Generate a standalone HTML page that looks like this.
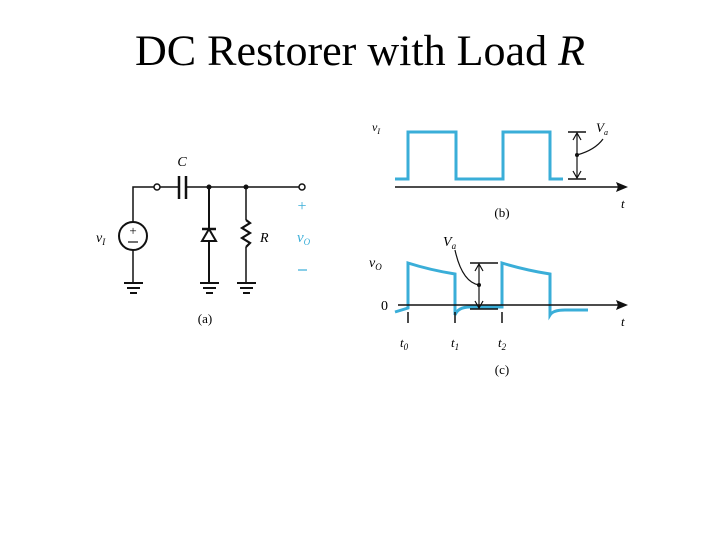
<!DOCTYPE html>
<html><head><meta charset="utf-8"><style>html,body{margin:0;padding:0;background:#fff;width:720px;height:540px;overflow:hidden}</style></head>
<body>
<svg width="720" height="540" viewBox="0 0 720 540" xmlns="http://www.w3.org/2000/svg" font-family="Liberation Serif, serif">
<text x="360" y="65" font-size="43" text-anchor="middle" textLength="450" lengthAdjust="spacingAndGlyphs">DC Restorer with Load <tspan font-style="italic">R</tspan></text>

<g stroke="#111" stroke-width="1.5" fill="none">
<!-- circuit -->
<polyline points="133,222 133,187 154,187"/>
<line x1="160" y1="187" x2="179" y2="187"/>
<line x1="179" y1="176" x2="179" y2="199" stroke-width="2.5"/>
<line x1="186" y1="176" x2="186" y2="199" stroke-width="2.5"/>
<line x1="186" y1="187" x2="299" y2="187"/>
<circle cx="157" cy="187" r="3" fill="#fff"/>
<circle cx="302" cy="187" r="3" fill="#fff"/>
<circle cx="133" cy="236" r="14" stroke-width="2"/>
<line x1="133" y1="250" x2="133" y2="283"/>
<line x1="209" y1="187" x2="209" y2="283" stroke-width="2"/>
<line x1="246" y1="187" x2="246" y2="220"/>
<polyline points="246,220 250,223 242,228 250,233 242,238 250,243 246,247" stroke-width="2.2"/>
<line x1="246" y1="247" x2="246" y2="283"/>
</g>
<circle cx="209" cy="187" r="2.5" fill="#111"/>
<circle cx="246" cy="187" r="2.5" fill="#111"/>
<polygon points="202,241 216,241 209,229" fill="#fff" stroke="#111" stroke-width="2"/>
<line x1="202" y1="229" x2="216" y2="229" stroke="#111" stroke-width="2.5"/>
<g stroke="#111" stroke-width="2">
<line x1="124" y1="283" x2="143" y2="283"/><line x1="127" y1="288" x2="140" y2="288"/><line x1="130" y1="293" x2="137" y2="293"/>
<line x1="200" y1="283" x2="219" y2="283"/><line x1="203" y1="288" x2="216" y2="288"/><line x1="206" y1="293" x2="213" y2="293"/>
<line x1="237" y1="283" x2="256" y2="283"/><line x1="240" y1="288" x2="253" y2="288"/><line x1="243" y1="293" x2="250" y2="293"/>
</g>
<text x="133" y="235" font-size="13" text-anchor="middle">+</text>
<line x1="128" y1="242" x2="138" y2="242" stroke="#111" stroke-width="1.2"/>
<text x="182" y="166" font-size="14" font-style="italic" text-anchor="middle">C</text>
<text x="260" y="242" font-size="14" font-style="italic">R</text>
<text x="96" y="242" font-size="14" font-style="italic">v<tspan font-size="9" dy="3">I</tspan></text>
<text x="302" y="211" font-size="16" fill="#3aaed8" text-anchor="middle">+</text>
<text x="297" y="242" font-size="15" font-style="italic" fill="#3aaed8">v<tspan font-size="9" dy="3">O</tspan></text>
<line x1="298" y1="270" x2="307" y2="270" stroke="#3aaed8" stroke-width="1.2"/>
<text x="205" y="323" font-size="13" text-anchor="middle">(a)</text>

<!-- (b) -->
<g fill="none">
<polyline points="395,179 408,179 408,132 456,132 456,179 503,179 503,132 550,132 550,179 563,179" stroke="#3aaed8" stroke-width="3"/>
<line x1="395" y1="187" x2="618" y2="187" stroke="#111" stroke-width="1.5"/>
<line x1="568" y1="132" x2="586" y2="132" stroke="#111" stroke-width="1.5"/>
<line x1="568" y1="179" x2="586" y2="179" stroke="#111" stroke-width="1.5"/>
<line x1="577" y1="133" x2="577" y2="178" stroke="#111" stroke-width="1.2"/>
<polyline points="573,140 577,133 581,140" stroke="#111" stroke-width="1.2"/>
<polyline points="573,171 577,178 581,171" stroke="#111" stroke-width="1.2"/>
<path d="M577,155 Q595,150 603,139" stroke="#111" stroke-width="1.2"/>
</g>
<polygon points="628,187 616,182 618,187 616,192" fill="#111"/>
<circle cx="577" cy="155" r="2" fill="#111"/>
<text x="372" y="131" font-size="12" font-style="italic">v<tspan font-size="8" dy="3">I</tspan></text>
<text x="596" y="132" font-size="13" font-style="italic">V<tspan font-size="8" dy="3">a</tspan></text>
<text x="621" y="208" font-size="13" font-style="italic">t</text>
<text x="502" y="217" font-size="13" text-anchor="middle">(b)</text>

<!-- (c) -->
<g fill="none">
<path d="M395,312 L408,308 L408,263 Q430,270 455,274 L455,315 Q458,307 470,307 L502,307 L502,263 Q525,270 550,274 L550,315 Q553,310 565,310 L588,310" stroke="#3aaed8" stroke-width="3"/>
<line x1="398" y1="305" x2="618" y2="305" stroke="#111" stroke-width="1.5"/>
<line x1="408" y1="312" x2="408" y2="323" stroke="#111" stroke-width="1.5"/>
<line x1="455" y1="312" x2="455" y2="323" stroke="#111" stroke-width="1.5"/>
<line x1="502" y1="312" x2="502" y2="323" stroke="#111" stroke-width="1.5"/>
<line x1="470" y1="263" x2="498" y2="263" stroke="#111" stroke-width="1.5"/>
<line x1="470" y1="309" x2="498" y2="309" stroke="#111" stroke-width="1.5"/>
<line x1="479" y1="264" x2="479" y2="308" stroke="#111" stroke-width="1.2"/>
<polyline points="475,271 479,264 483,271" stroke="#111" stroke-width="1.2"/>
<polyline points="475,301 479,308 483,301" stroke="#111" stroke-width="1.2"/>
<path d="M479,285 Q462,282 455,250" stroke="#111" stroke-width="1.2"/>
</g>
<polygon points="628,305 616,300 618,305 616,310" fill="#111"/>
<circle cx="479" cy="285" r="2" fill="#111"/>
<text x="443" y="246" font-size="14" font-style="italic">V<tspan font-size="9" dy="3">a</tspan></text>
<text x="369" y="267" font-size="14" font-style="italic">v<tspan font-size="9" dy="3">O</tspan></text>
<text x="381" y="310" font-size="14">0</text>
<text x="621" y="326" font-size="13" font-style="italic">t</text>
<text x="400" y="347" font-size="13" font-style="italic">t<tspan font-size="9" dy="3">0</tspan></text>
<text x="451" y="347" font-size="13" font-style="italic">t<tspan font-size="9" dy="3">1</tspan></text>
<text x="498" y="347" font-size="13" font-style="italic">t<tspan font-size="9" dy="3">2</tspan></text>
<text x="502" y="374" font-size="13" text-anchor="middle">(c)</text>
</svg>
</body></html>
